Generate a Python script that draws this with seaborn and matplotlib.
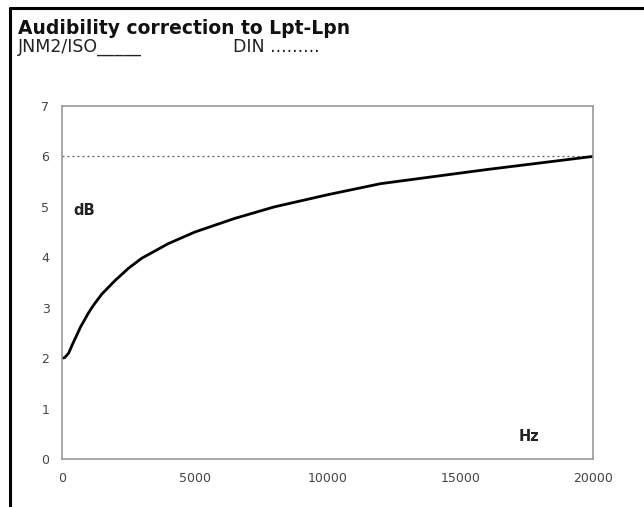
import numpy as np
import pandas as pd
import matplotlib
matplotlib.use('Agg')
import matplotlib.pyplot as plt
import seaborn as sns
from matplotlib.lines import Line2D

# values
freq_hz = [0, 100, 250, 400, 700, 1000, 1200, 1500, 2000, 2500, 3000, 4000, 5000,
           6500, 8000, 10000, 12000, 14000, 16000, 18000, 20000]
jnm2_iso_db = [2.0, 2.01, 2.1, 2.28, 2.62, 2.9, 3.06, 3.27, 3.54, 3.78, 3.98, 4.27, 4.5,
               4.77, 5.0, 5.24, 5.46, 5.6, 5.74, 5.87, 6.0]
din_freq = [0, 20000]
din_db = [6.0, 6.0]
x_ticks = [0, 5000, 10000, 15000, 20000]
y_ticks = [0, 1, 2, 3, 4, 5, 6, 7]

sns.set_style('white')
plt.rcParams['font.family'] = ['DejaVu Sans']

df_iso = pd.DataFrame({'Hz': freq_hz, 'dB': jnm2_iso_db})
df_din = pd.DataFrame({'Hz': din_freq, 'dB': din_db})

fig = plt.figure(figsize=(6.44, 5.07), dpi=100)
ax = fig.add_axes([62/644, 48/507, 531/644, 353/507])

sns.lineplot(data=df_din, x='Hz', y='dB', ax=ax, color='#555555', lw=0.9,
             linestyle=(0, (1.5, 2.5)))
sns.lineplot(data=df_iso, x='Hz', y='dB', ax=ax, color='black', lw=2.0)

ax.set_xlim(0, 20000)
ax.set_ylim(0, 7)
ax.set_xticks(x_ticks)
ax.set_yticks(y_ticks)
ax.set_xlabel('')
ax.set_ylabel('')
for s in ax.spines.values():
    s.set_color('#9a9a9a')
    s.set_linewidth(1.2)
ax.tick_params(axis='both', direction='out', length=4, width=1, color='#9a9a9a',
               labelsize=9, labelcolor='#444444', pad=5)

ax.text(0.021, 0.705, 'dB', transform=ax.transAxes, fontsize=10.5, fontweight='bold',
        color='#222222', va='center')
ax.text(0.859, 0.065, 'Hz', transform=ax.transAxes, fontsize=10.5, fontweight='bold',
        color='#222222', va='center')

fig.text(18/644, 1 - 28/507, 'Audibility correction to Lpt-Lpn', fontsize=13.5,
         fontweight='bold', color='#111111', va='center')
fig.text(18/644, 1 - 47/507, 'JNM2/ISO_____', fontsize=12.5, color='#222222', va='center')
fig.text(233/644, 1 - 47/507, 'DIN .........', fontsize=12.5, color='#222222', va='center')

# outer frame (left and top edges only)
fig.add_artist(Line2D([10/644, 10/644], [0, 1 - 8/507], color='black', lw=2.2,
                      transform=fig.transFigure))
fig.add_artist(Line2D([10/644, 1], [1 - 8/507, 1 - 8/507], color='black', lw=2.2,
                      transform=fig.transFigure))

plt.savefig('out.png', dpi=100)
